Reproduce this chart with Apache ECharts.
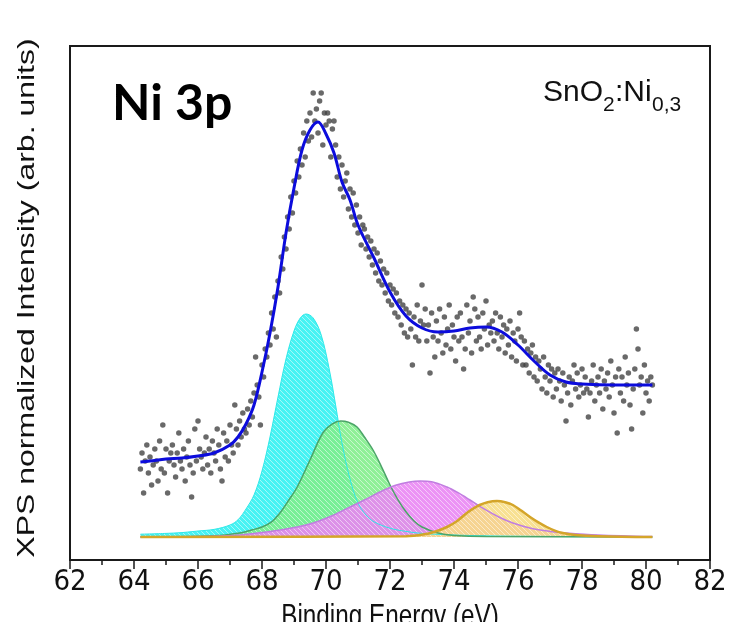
<!DOCTYPE html>
<html>
<head>
<meta charset="utf-8">
<script src="https://cdn.jsdelivr.net/npm/echarts@6/dist/echarts.min.js"></script>
<style>
  html, body { margin: 0; padding: 0; background: #fff; }
  #chart { width: 731px; height: 622px; }
</style>
</head>
<body>
<div id="chart"></div>
<script>
const energyStart = 64.2;
const energyStep = 0.05;
const counts = [
  17, 21, 11, 19, 23, 16, 20, 13, 18, 22, 19, 14, 24, 17, 28, 16, 22, 11, 19, 21,
  23, 18, 15, 21, 26, 19, 17, 22, 14, 20, 24, 18, 10, 16, 27, 19, 29, 22, 20, 17,
  21, 25, 18, 22, 16, 24, 21, 19, 27, 23, 17, 14, 26, 20, 24, 19, 28, 23, 21, 33,
  27, 23, 29, 25, 31, 27, 26, 32, 28, 34, 30, 36, 45, 38, 35, 28, 43, 40, 47, 45,
  51, 48, 56, 52, 60, 50, 64, 61, 70, 67, 75, 72, 80, 77, 85, 81, 89, 86, 94, 90,
  97, 93, 101, 95, 104, 99, 106, 100, 111, 104, 107, 101, 109, 111, 98, 106, 103, 106, 104, 95,
  102, 104, 98, 90, 95, 87, 93, 85, 89, 91, 82, 87, 80, 86, 78, 83, 76, 80, 73, 78,
  77, 72, 75, 70, 74, 68, 72, 66, 71, 64, 69, 63, 67, 61, 66, 59, 63, 58, 62, 56,
  61, 55, 59, 53, 58, 51, 57, 50, 56, 52, 43, 55, 50, 58, 49, 54, 63, 53, 57, 49,
  53, 41, 56, 50, 45, 54, 49, 57, 51, 46, 55, 48, 52, 58, 47, 53, 50, 44, 55, 49,
  56, 50, 42, 47, 58, 51, 54, 46, 60, 57, 49, 55, 50, 47, 56, 52, 59, 48, 53, 51,
  54, 49, 56, 51, 47, 55, 50, 53, 46, 52, 48, 54, 45, 51, 49, 44, 52, 56, 50, 43,
  49, 43, 47, 41, 46, 48, 40, 45, 39, 44, 42, 37, 45, 40, 36, 43, 39, 42, 35, 41,
  37, 42, 39, 34, 41, 38, 29, 36, 40, 33, 39, 43, 37, 41, 35, 38, 42, 36, 40, 37,
  30, 36, 39, 43, 34, 38, 40, 36, 42, 32, 39, 37, 41, 35, 44, 38, 31, 40, 26, 42,
  36, 40, 34, 45, 38, 41, 33, 27, 37, 42, 52, 47, 38, 40, 31, 43, 36, 39, 34, 40,
  38
];

// envelope of the fit
const fitCurve = [
  [64.2, 18.75], [64.5, 19], [65, 19.5], [65.5, 19.75], [66, 20.25], [66.5, 21],
  [67, 23], [67.25, 25], [67.5, 28.25], [67.75, 33], [68, 41.25], [68.25, 51],
  [68.5, 62.5], [68.75, 76], [69, 87.25], [69.25, 96.75], [69.5, 101.75], [69.75, 103.75],
  [70, 100.75], [70.25, 96], [70.5, 88.75], [70.75, 84.25], [71, 78], [71.5, 69.75],
  [72, 61.25], [72.5, 55.25], [73, 52.25], [73.5, 51.25], [74, 51.5], [74.5, 52.25],
  [75, 52.5], [75.5, 51.25], [76, 48], [76.5, 44], [77, 40.5], [77.5, 38.75],
  [78, 38.25], [79, 38], [80.2, 38]
];

// fitted components (above the background)
const peakCyan = [
  [64.2, 0.7], [65, 0.9], [65.5, 1.1], [66, 1.5], [66.5, 1.9], [67, 3], [67.25, 4.3],
  [67.5, 7], [67.75, 10.5], [68, 16.5], [68.25, 25], [68.5, 35], [68.75, 44.5], [69, 51.5],
  [69.2, 54.8], [69.375, 55.75], [69.6, 54.75], [69.85, 50.5], [70.1, 42], [70.3, 33],
  [70.5, 23.5], [70.75, 14.5], [71, 8.5], [71.25, 5.5], [71.5, 3.8], [72, 2.2], [72.5, 1.4],
  [73, 0.9], [74, 0.5], [75, 0.3], [76, 0.2], [80.2, 0]
];
const peakGreen = [
  [64.2, 0], [66.5, 0.3], [67.3, 1], [67.7, 1.8], [68, 2.5], [68.3, 3.8], [68.56, 6],
  [68.8, 8.8], [69.1, 12.5], [69.5, 19.25], [69.9, 26], [70.2, 28.3], [70.46, 29],
  [70.7, 28.7], [70.97, 27.5], [71.2, 25], [71.47, 21.75], [71.75, 17.3], [72, 13],
  [72.25, 9.3], [72.5, 6.3], [72.75, 4], [73, 2.5], [73.5, 1], [74, 0.4], [75, 0.1], [80.2, 0]
];
const peakPurple = [
  [64.2, 0], [66.5, 0.2], [67.3, 0.5], [68.2, 1.3], [69.1, 2.5], [69.6, 3.5], [70.1, 5],
  [70.6, 6.9], [71.2, 9.25], [71.7, 11.3], [72.2, 13], [72.6, 13.75], [72.94, 14],
  [73.3, 13.8], [73.78, 12.5], [74.1, 11.2], [74.5, 9.25], [74.9, 7.2], [75.4, 5],
  [75.84, 3.5], [76.4, 2.2], [77, 1.4], [77.5, 1], [78.5, 0.5], [80.2, 0.1]
];
const peakYellow = [
  [64.2, 0], [72.5, 0.2], [73.03, 0.6], [73.4, 1.3], [73.78, 2.5], [74.1, 4], [74.4, 6],
  [74.6, 7.1], [74.8, 8], [75.05, 8.7], [75.34, 9], [75.6, 8.7], [75.84, 8], [76.1, 6.6],
  [76.375, 5], [76.65, 3.6], [76.9, 2.5], [77.15, 1.6], [77.4, 1], [77.8, 0.5], [78.5, 0.2],
  [80.2, 0]
];

const measured = counts.map((c, i) => [+(energyStart + i * energyStep).toFixed(2), c]);

function hatch(color) {
  const s = 5;
  const c = document.createElement('canvas');
  c.width = c.height = s;
  const g = c.getContext('2d');
  g.fillStyle = color;
  g.fillRect(0, 0, s, s);
  g.strokeStyle = 'rgba(255,255,255,0.5)';
  g.lineWidth = 1;
  for (const o of [-s, 0, s]) {
    g.beginPath();
    g.moveTo(o, 0);
    g.lineTo(o + s, s);
    g.stroke();
  }
  return { image: c, repeat: 'repeat' };
}

function peak(data, fill, edge, width) {
  return {
    type: 'line',
    data: data,
    smooth: 0.35,
    showSymbol: false,
    silent: true,
    lineStyle: { color: edge, width: width },
    areaStyle: { color: hatch(fill), opacity: 0.88 }
  };
}

const narrow = '"Liberation Sans Narrow", "Arial Narrow", "DejaVu Sans Condensed", "Liberation Sans", sans-serif';
const sans = '"Liberation Sans", Arial, sans-serif';

const chart = echarts.init(document.getElementById('chart'));
chart.setOption({
  backgroundColor: '#fff',
  animation: false,
  grid: {
    left: 70, right: 21, top: 46, bottom: 62,
    show: true, borderColor: '#1a1a1a', borderWidth: 2, backgroundColor: 'transparent'
  },
  xAxis: {
    type: 'value',
    min: 62, max: 82, interval: 2,
    axisLine: { show: true, onZero: false, lineStyle: { color: '#1a1a1a', width: 2 } },
    axisTick: { show: true, inside: false, length: 9, lineStyle: { color: '#1a1a1a', width: 1.5 } },
    minorTick: { show: true, splitNumber: 2, length: 5, lineStyle: { color: '#1a1a1a', width: 1.5 } },
    axisLabel: { fontSize: 29, fontFamily: narrow, color: '#111', margin: 8 },
    splitLine: { show: false }
  },
  yAxis: {
    type: 'value',
    min: -5.75, max: 122.75,
    axisLine: { show: false },
    axisTick: { show: false },
    axisLabel: { show: false },
    splitLine: { show: false }
  },
  series: [
    peak(peakCyan, '#2ef2f2', '#2ee8e8', 1),
    peak(peakGreen, '#80ee8a', '#4ca468', 1.5),
    peak(peakPurple, '#ea86f4', '#c07ee0', 1.5),
    peak(peakYellow, '#f8dd84', '#d4a52a', 2.5),
    {
      type: 'scatter',
      data: measured,
      symbolSize: 5.5,
      itemStyle: { color: '#444' },
      silent: true
    },
    {
      type: 'line',
      data: fitCurve,
      smooth: 0.35,
      showSymbol: false,
      silent: true,
      lineStyle: { color: '#0c0cdc', width: 3 }
    }
  ],
  graphic: [
    {
      type: 'text', x: 112, y: 104,
      style: {
        text: 'Ni 3p', font: 'bold 50px Lato', fill: '#000',
        verticalAlign: 'middle',
        shadowColor: 'rgba(0,0,0,0.45)', shadowBlur: 4, shadowOffsetX: 3, shadowOffsetY: 3
      }
    },
    { type: 'text', x: 543, y: 93, style: { text: 'SnO', font: '30px ' + sans, fill: '#111', verticalAlign: 'middle' } },
    { type: 'text', x: 603, y: 105, style: { text: '2', font: '21px ' + sans, fill: '#111', verticalAlign: 'middle' } },
    { type: 'text', x: 615, y: 93, style: { text: ':Ni', font: '30px ' + sans, fill: '#111', verticalAlign: 'middle' } },
    { type: 'text', x: 652, y: 105, style: { text: '0,3', font: '21px ' + sans, fill: '#111', verticalAlign: 'middle' } },
    {
      type: 'text', x: 27, y: 298, rotation: Math.PI / 2, scaleY: 0.75,
      style: { text: 'XPS normalized Intensity (arb. units)', font: '32px ' + sans, fill: '#111', align: 'center', verticalAlign: 'middle' }
    },
    {
      type: 'text', x: 390, y: 617, scaleX: 0.76,
      style: { text: 'Binding Energy (eV)', font: '32px ' + sans, fill: '#111', align: 'center', verticalAlign: 'middle' }
    }
  ]
});
</script>
</body>
</html>
